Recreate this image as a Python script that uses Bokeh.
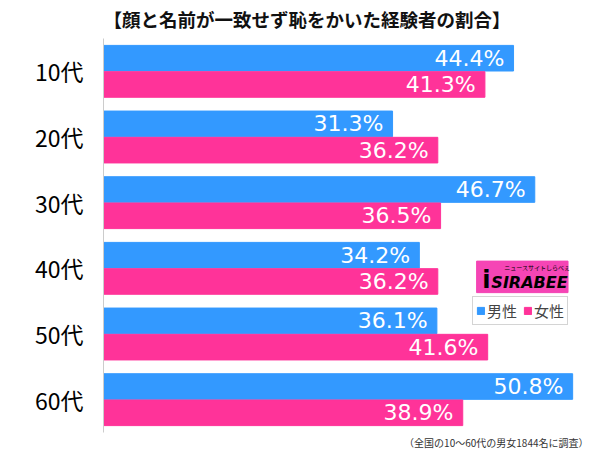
from bokeh.plotting import figure
from bokeh.models import Range1d, FixedTicker, Label, ColumnDataSource, Legend, LegendItem, Title
from bokeh.embed import file_html
from bokeh.resources import INLINE
from bokeh.core.properties import value

categories = ["10代", "20代", "30代", "40代", "50代", "60代"]
male = [44.4, 31.3, 46.7, 34.2, 36.1, 50.8]
female = [41.3, 36.2, 36.5, 36.2, 41.6, 38.9]
series_names = ["男性", "女性"]
title_text = "【顔と名前が一致せず恥をかいた経験者の割合】"
note_text = "（全国の10～60代の男女1844名に調査）"

BLUE = "#3399FF"
PINK = "#FF3399"
FONT = "Noto Sans CJK JP"

n = len(categories)
centers = [i + 0.5 for i in range(n)]
src = ColumnDataSource(dict(
    ym=[c - 0.2 for c in centers], yf=[c + 0.2 for c in centers],
    male=male, female=female,
    male_lbl=[f"{v:.1f}%" for v in male], female_lbl=[f"{v:.1f}%" for v in female],
    male_x=[v - 1.0 for v in male], female_x=[v - 1.0 for v in female],
))

p = figure(width=600, height=449, output_backend="svg", toolbar_location=None,
           x_range=Range1d(0, 53.6), y_range=Range1d(6, 0),
           min_border_left=103, min_border_right=2, min_border_top=34, min_border_bottom=14)
p.outline_line_color = None
p.xgrid.visible = False
p.ygrid.visible = False
p.xaxis.visible = False
p.background_fill_color = "white"

p.title.text = title_text
p.title.align = "left"
p.title.vertical_align = "top"
p.title.text_font_size = "18.5px"
p.title.text_font_style = "bold"
p.title.text_font = FONT
p.title.text_color = "#111111"
p.title.standoff = 10
p.title.offset = 0

p.add_layout(Title(text=note_text, align="right", text_font_size="10px",
                   text_font_style="normal", text_font=FONT, text_color="#333333",
                   standoff=0, offset=10), "below")

rm = p.hbar(y="ym", right="male", left=0, height=0.39, color=BLUE, source=src)
rf = p.hbar(y="yf", right="female", left=0, height=0.39, color=PINK, source=src)

for xcol, ycol, tcol in [("male_x", "ym", "male_lbl"), ("female_x", "yf", "female_lbl")]:
    p.text(x=xcol, y=ycol, text=tcol, source=src, text_color="white",
           text_align="right", text_baseline="middle", text_font_size="22px",
           text_font=value("DejaVu Sans"))

ax = p.yaxis[0]
ax.ticker = FixedTicker(ticks=centers)
ax.major_label_overrides = {c: cat for c, cat in zip(centers, categories)}
ax.major_tick_line_color = None
ax.minor_tick_line_color = None
ax.axis_line_color = "#cccccc"
ax.major_label_standoff = 14
ax.major_label_text_font_size = "23px"
ax.major_label_text_font = FONT
ax.major_label_text_color = "black"

# logo
p.quad(left=[40.4], right=[50.3], top=[3.39], bottom=[3.87], color="#F545B5")
p.add_layout(Label(x=42.0, y=3.72, text="SIRABEE", text_align="left", text_baseline="middle",
                   text_font_size="16px", text_font_style="bold italic",
                   text_font="DejaVu Sans", text_color="black"))
p.add_layout(Label(x=43.4, y=3.49, text="ニュースサイトしらべぇ", text_align="left",
                   text_baseline="middle", text_font_size="6px", text_font=FONT,
                   text_color="black"))
p.add_layout(Label(x=41.0, y=3.68, text="i", text_align="left", text_baseline="middle",
                   text_font_size="24px", text_font_style="bold",
                   text_font="DejaVu Sans", text_color="black"))

legend = Legend(items=[LegendItem(label=series_names[0], renderers=[rm]),
                       LegendItem(label=series_names[1], renderers=[rf])],
                orientation="horizontal", location=(369, 107),
                label_text_font_size="15px", label_text_font=FONT,
                label_text_color="#444444", glyph_width=9, glyph_height=9,
                label_standoff=2, spacing=6, padding=3, margin=0,
                border_line_color="#aaaaaa", background_fill_alpha=1)
p.add_layout(legend)

open("out.html", "w").write(file_html(p, INLINE))
